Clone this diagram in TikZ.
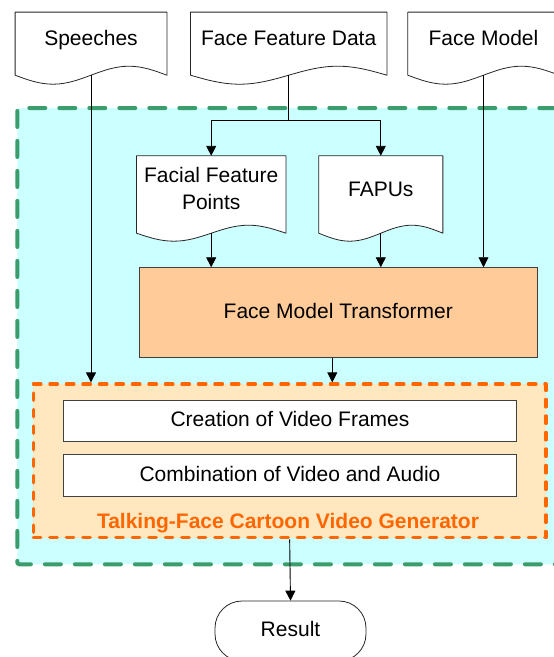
\documentclass[tikz,border=0pt]{standalone}
\usepackage{fontspec}
\setmainfont{Liberation Sans}
\usetikzlibrary{arrows.meta,calc,backgrounds}

\definecolor{zonegreen}{RGB}{58,157,107}
\definecolor{zonecyan}{RGB}{204,255,255}
\definecolor{genorange}{RGB}{255,102,0}
\definecolor{genpeach}{RGB}{255,232,192}
\definecolor{fmtfill}{RGB}{255,204,153}
\definecolor{edgegray}{RGB}{64,64,64}

\tikzset{
  base/.style={font=\fontsize{21pt}{26.6pt}\selectfont, text=black, inner sep=0pt,
               text height=15pt, text depth=4pt},
  docbox/.style={base, text height=15pt, text depth=11.5pt},
  procbox/.style={base, draw=edgegray, line width=0.9pt},
  flow/.style={line width=0.9pt, -{Triangle[width=10pt,length=10pt]}},
  link/.style={line width=0.9pt},
  docline/.style={draw=black!85, line width=0.8pt, line join=round, fill=white},
}

% outline of a document symbol: straight top and sides, one sine period along the bottom
\newcommand{\docoutline}[2]{%
  \draw[docline] (#1.south west)
    sin ($(#1.south west)!0.25!(#1.south east)+(0,#2)$)
    cos (#1.south)
    sin ($(#1.south west)!0.75!(#1.south east)-(0,#2)$)
    cos (#1.south east) -- (#1.north east) -- (#1.north west) -- cycle;}

\begin{document}
\begin{tikzpicture}[x=1pt, y=-1pt]
\useasboundingbox (0,0) rectangle (554,657);

% input documents
\node[docbox, minimum width=151.4pt, minimum height=62.7pt] (sp)  at (91,43.65)    {Speeches};
\node[docbox, minimum width=196pt,   minimum height=62.7pt] (ffd) at (288.7,43.65)  {Face Feature Data};
\node[docbox, minimum width=151pt,   minimum height=62.7pt] (fm)  at (483.5,43.65)  {Face Model};

% derived documents
\node[docbox, align=center, minimum width=149pt, minimum height=77pt,
      text height=41pt, text depth=11.4pt] (ffp) at (211.2,194.5) {Facial Feature\\Points};
\node[docbox, minimum width=123.7pt, minimum height=77pt, text depth=11pt] (fapu) at (380.8,194.5) {FAPUs};

% transformer
\node[procbox, fill=fmtfill, minimum width=398pt, minimum height=90pt] (fmt) at (338.3,312.7) {Face Model Transformer};

% generator
\node[draw=genorange, fill=genpeach, line width=3.3pt, line cap=round, line join=round,
      dash pattern=on 7.5pt off 9pt, minimum width=512.7pt, minimum height=153.7pt, inner sep=0pt]
      (gen) at (289.65,460.85) {};
\node[procbox, fill=white, minimum width=453.4pt, minimum height=41.7pt] (cvf) at (290,420.85) {Creation of Video Frames};
\node[procbox, fill=white, minimum width=453.4pt, minimum height=42.4pt] (cva) at (290,475.5) {Combination of Video and Audio};
\node[base, font=\fontsize{21pt}{25pt}\selectfont\bfseries, text=genorange, anchor=base] (genlbl) at (288,528)
      {Talking-Face Cartoon Video Generator};

% result
\node[base, draw=black!85, line width=0.8pt, rounded corners=27pt, minimum width=151pt, minimum height=60pt]
      (res) at (290.5,631) {Result};

\begin{scope}[on background layer]
  \node[draw=zonegreen, fill=zonecyan, line width=4pt, line cap=round, line join=round, rounded corners=2pt,
        dash pattern=on 16pt off 14pt, minimum width=600pt, minimum height=456.3pt, inner sep=0pt, anchor=north west]
        (zone) at (15.3,106) {};
  \docoutline{sp}{9}
  \docoutline{ffd}{9}
  \docoutline{fm}{9}
  \docoutline{ffp}{8}
  \docoutline{fapu}{8}
\end{scope}

% connectors
\coordinate (split) at ($(ffd.south)+(0,45)$);
\draw[link] (ffd.south) -- (split);
\draw[flow] (split) -| (ffp.north);
\draw[flow] (split) -| (fapu.north);
\draw[flow] (ffp.south) -- (ffp.south |- fmt.north);
\draw[flow] (fapu.south) -- (fapu.south |- fmt.north);
\draw[flow] (fm.south) -- (fm.south |- fmt.north);
\draw[flow] (sp.south) -- (sp.south |- gen.north);
\draw[flow] ([xshift=-6pt]fmt.south) -- ([xshift=-6pt]fmt.south |- gen.north);
\draw[flow] (gen.south) -- (res.north);
\end{tikzpicture}
\end{document}
